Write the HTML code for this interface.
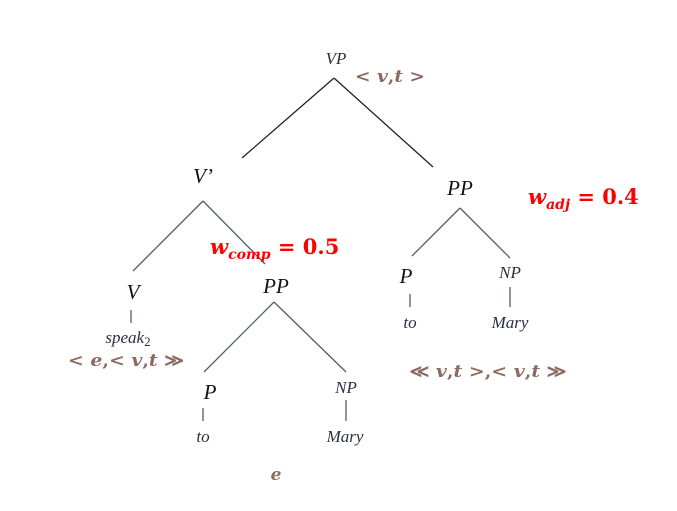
<!DOCTYPE html>
<html><head><meta charset="utf-8"><style>
body{margin:0;background:#fff;}
svg{display:block;}
.n{font-family:"Liberation Serif",serif;font-style:italic;font-size:21px;fill:#111;text-anchor:middle;}
.s{font-family:"Liberation Serif",serif;font-style:italic;font-size:17px;fill:#2a2f3d;text-anchor:middle;}
.b{font-family:"DejaVu Serif",serif;font-weight:bold;font-size:17px;fill:#8b6a5f;text-anchor:middle;}
.r{font-family:"DejaVu Serif",serif;font-weight:bold;font-size:21px;fill:#ff0000;}
.l{stroke:#555e66;stroke-width:1.3;}
</style></head><body>
<svg width="677" height="511">
<g>
<line class="l" style="stroke:#222" x1="334" y1="78" x2="242" y2="158"/>
<line class="l" style="stroke:#222" x1="334" y1="78" x2="433" y2="167"/>
<line class="l" x1="203" y1="201" x2="133" y2="271"/>
<line class="l" x1="203" y1="201" x2="265" y2="264"/>
<line class="l" x1="274" y1="302" x2="204" y2="372"/>
<line class="l" x1="274" y1="302" x2="346" y2="372"/>
<line class="l" x1="460" y1="208" x2="412" y2="256"/>
<line class="l" x1="460" y1="208" x2="510" y2="258"/>
<line class="l" x1="131" y1="310" x2="131" y2="323"/>
<line class="l" x1="203" y1="408" x2="203" y2="421"/>
<line class="l" x1="346" y1="400" x2="346" y2="421"/>
<line class="l" x1="410" y1="294" x2="410" y2="307"/>
<line class="l" x1="510" y1="287" x2="510" y2="307"/>
</g>
<text class="s" x="336" y="64">VP</text>
<text class="b" x="390" y="82" textLength="70" lengthAdjust="spacingAndGlyphs">&lt; <tspan font-style="italic">v</tspan>,<tspan font-style="italic">t</tspan> &gt;</text>
<text class="n" x="203" y="183">V’</text>
<text class="n" x="460" y="195">PP</text>
<text class="r" x="528" y="204"><tspan font-style="italic">w</tspan><tspan font-size="14" dy="5" font-style="italic">adj</tspan><tspan dy="-5"> = 0.4</tspan></text>
<text class="r" x="210" y="254"><tspan font-style="italic">w</tspan><tspan font-size="14" dy="5" font-style="italic">comp</tspan><tspan dy="-5"> = 0.5</tspan></text>
<text class="n" x="133" y="299">V</text>
<text class="n" x="276" y="293">PP</text>
<text class="s" x="128" y="343">speak<tspan font-size="13" dy="3" font-style="normal">2</tspan></text>
<text class="b" x="126" y="366" textLength="116" lengthAdjust="spacingAndGlyphs">&lt; <tspan font-style="italic">e</tspan>,&lt; <tspan font-style="italic">v</tspan>,<tspan font-style="italic">t</tspan> ≫</text>
<text class="n" x="210" y="399">P</text>
<text class="s" x="346" y="393">NP</text>
<text class="s" x="203" y="442">to</text>
<text class="s" x="345" y="442">Mary</text>
<text class="b" x="276" y="480" font-style="italic">e</text>
<text class="n" x="406" y="283">P</text>
<text class="s" x="510" y="278">NP</text>
<text class="s" x="410" y="328">to</text>
<text class="s" x="510" y="328">Mary</text>
<text class="b" x="488" y="377" textLength="157" lengthAdjust="spacingAndGlyphs">≪ <tspan font-style="italic">v</tspan>,<tspan font-style="italic">t</tspan> &gt;,&lt; <tspan font-style="italic">v</tspan>,<tspan font-style="italic">t</tspan> ≫</text>
</svg>
</body></html>
